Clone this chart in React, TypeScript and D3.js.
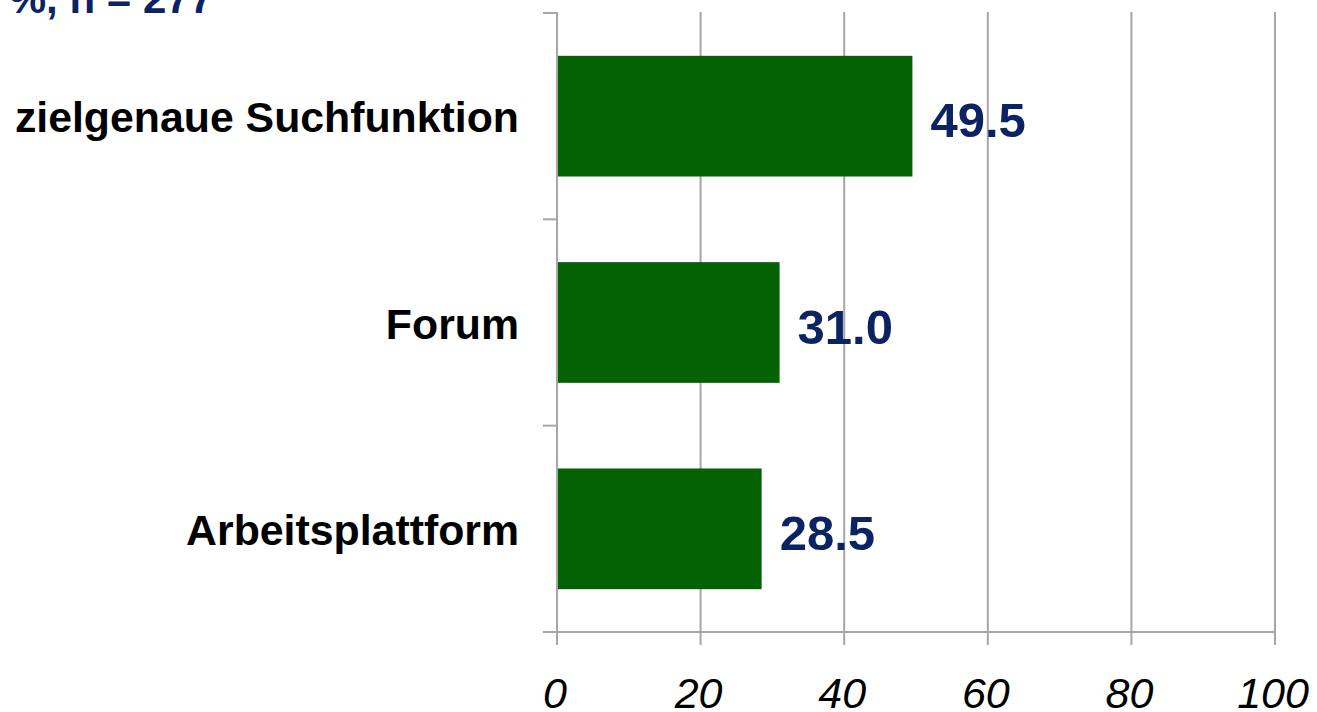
import React from "react";
import * as d3 from "d3";

const categories = ["zielgenaue Suchfunktion", "Forum", "Arbeitsplattform"];
const values = [49.5, 31.0, 28.5];
const xTicks = [0, 20, 40, 60, 80, 100];
const titleText = "Angaben in %, n = 277";

const W = 1317;
const H = 712;
const left = 557;
const right = 1275;
const top = 13;
const bottom = 632;

const FONT = "'Liberation Sans', Arial, Helvetica, sans-serif";
const GRID = "#a6a6a6";
const GREEN = "#046104";
const BLUE = "#0b2363";

export default function App() {
  const x = d3.scaleLinear().domain([0, 100]).range([left, right]);
  const y = d3
    .scaleBand<string>()
    .domain(categories)
    .range([top, bottom])
    .paddingInner(0.415)
    .paddingOuter(0.2075);
  const step = y.step();
  const bandEdges = [0, 1, 2, 3].map((i) => top + i * step);

  return (
    <svg
      width={W}
      height={H}
      style={{ position: "absolute", left: 0, top: 0, background: "#fff" }}
    >
      <text
        x={213}
        y={13}
        textAnchor="end"
        fontFamily={FONT}
        fontWeight="bold"
        fontSize={42}
        fill={BLUE}
      >
        {titleText}
      </text>
      {xTicks.map((t) => (
        <line
          key={"g" + t}
          x1={x(t)}
          x2={x(t)}
          y1={top - 1}
          y2={bottom + 13}
          stroke={GRID}
          strokeWidth={2}
        />
      ))}
      <line x1={left - 14} x2={right} y1={bottom} y2={bottom} stroke={GRID} strokeWidth={2} />
      {bandEdges.map((e, i) => (
        <line key={"yt" + i} x1={left - 14} x2={left} y1={e} y2={e} stroke={GRID} strokeWidth={2} />
      ))}
      {categories.map((c, i) => {
        const by = y(c) as number;
        const bw = y.bandwidth();
        const cy = by + bw / 2;
        return (
          <g key={c}>
            <rect x={x(0) + 1} y={by} width={x(values[i]) - x(0) - 1} height={bw} fill={GREEN} />
            <text
              x={x(values[i]) + 18}
              y={cy + 21}
              fontFamily={FONT}
              fontWeight="bold"
              fontSize={49}
              fill={BLUE}
            >
              {values[i].toFixed(1)}
            </text>
            <text
              x={519}
              y={cy + 16}
              textAnchor="end"
              fontFamily={FONT}
              fontWeight="bold"
              fontSize={42.8}
              fill="#000"
            >
              {c}
            </text>
          </g>
        );
      })}
      {xTicks.map((t) => (
        <text
          key={"xl" + t}
          x={x(t) - 2}
          y={708}
          textAnchor="middle"
          fontFamily={FONT}
          fontStyle="italic"
          fontSize={43}
          fill="#000"
        >
          {t}
        </text>
      ))}
    </svg>
  );
}
